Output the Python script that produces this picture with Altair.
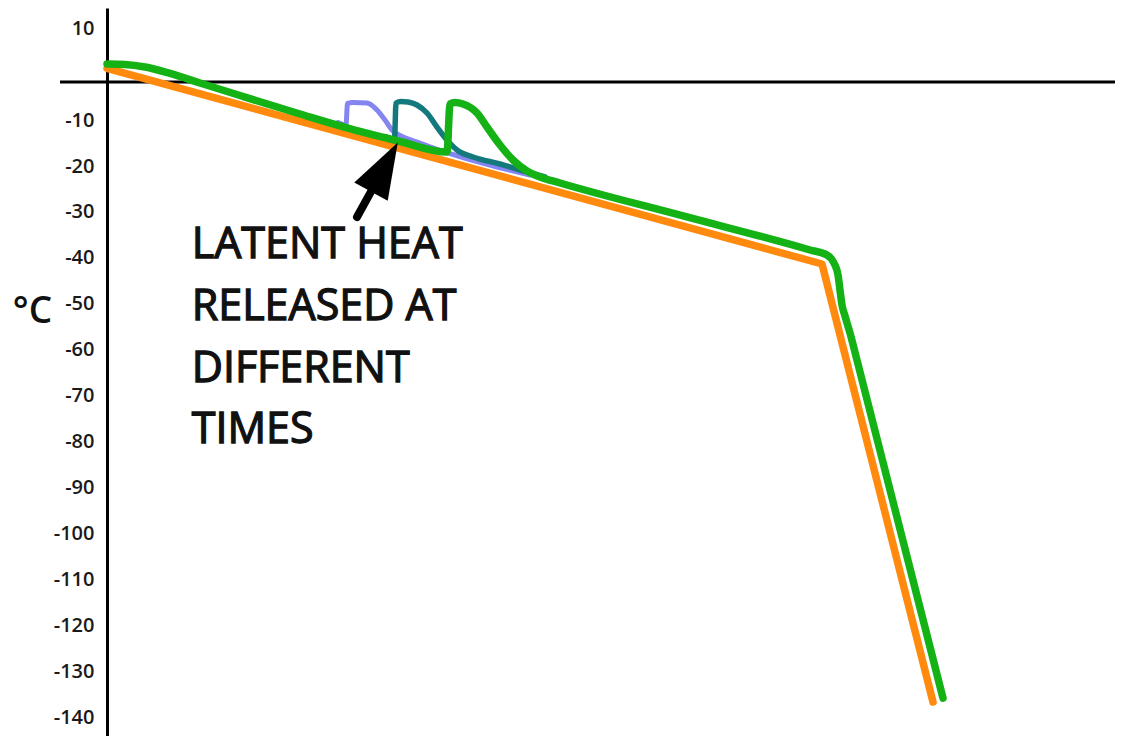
import altair as alt
import pandas as pd

# ---- data (time in arbitrary units, temperature in °C) ----
Y_TICKS = [10, -10, -20, -30, -40, -50, -60, -70, -80, -90, -100, -110, -120, -130, -140]

ORANGE_T = [0.0, 71.5, 82.6]
ORANGE_C = [1.28, -41.34, -136.72]

GREEN_T = [0.0, 1.8, 3.8, 6.3, 9.3, 13.3, 19.3, 25.3, 29.3, 34.0, 34.3, 34.8, 35.6, 37.0,
           38.0, 39.3, 40.6, 42.0, 43.3, 45.3, 57.8, 70.3, 72.0, 72.7, 73.1,
           73.3, 73.5, 73.8, 74.3, 75.0, 83.6]
GREEN_C = [2.21, 2.11, 1.56, 0.15, -1.92, -4.65, -8.67, -12.48, -14.66, -16.95, -6.50, -6.17,
           -6.50, -8.46, -11.51, -15.42, -18.69, -21.09, -22.40, -23.70, -30.99,
           -38.29, -39.40, -41.11, -43.73, -47.00, -50.27, -52.67, -56.37, -62.27,
           -135.87]

TEAL_T = [27.8, 28.75, 28.9, 29.4, 30.1, 31.0, 32.0, 33.0, 34.0, 35.0, 36.6, 39.3, 42.0, 43.8]
TEAL_C = [-13.60, -14.16, -6.28, -5.95, -6.06, -6.71, -8.46, -11.51, -14.34, -16.51, -18.04,
          -19.56, -21.30, -22.39]

PURPLE_T = [23.1, 23.9, 24.05, 24.6, 26.0, 27.0, 27.8, 28.5, 29.3, 31.3, 33.3, 35.6, 38.3, 42.3]
PURPLE_C = [-10.52, -11.07, -6.35, -6.17, -6.28, -7.80, -9.98, -12.16, -13.36, -15.00, -16.62,
            -18.15, -19.78, -21.96]

ZERO_LINE_T = [-4.7, 101.6]
ZERO_LINE_C = -1.72

ARROW_TAIL = (25.0, -31.10)
ARROW_BASE = (26.4, -25.59)
ARROW_ANGLE = 28.6

NOTE_LINES = ["LATENT HEAT", "RELEASED AT", "DIFFERENT", "TIMES"]
NOTE_T = 8.47
NOTE_C = [-40.10, -53.54, -66.97, -80.39]

# ---- layout ----
W, H = 1008, 728
PAD_L = 99
Y_TOP = 14.41
Y_BOT = -144.13
FONT = "Open Sans"

x_scale = alt.Scale(domain=[0, 100.8], nice=False, zero=False)
y_scale = alt.Scale(domain=[Y_BOT, Y_TOP], nice=False, zero=False)

y_axis = alt.Axis(
    values=Y_TICKS, title="°C", titleAngle=0, titleFont=FONT, titleFontSize=37,
    titleFontWeight=600, titleColor="#111111", titleX=-75, titleY=314,
    titleAlign="center", titleBaseline="alphabetic",
    labelFont=FONT, labelFontSize=20, labelFontWeight=600, labelColor="#1a1a1a",
    labelPadding=13, labelExpr="toString(datum.value)", labelOverlap=False,
    ticks=False, grid=False, domainColor="black", domainWidth=3,
)


def X(field="t"):
    return alt.X(f"{field}:Q", scale=x_scale, axis=None)


def Y(field="c"):
    return alt.Y(f"{field}:Q", scale=y_scale, axis=y_axis)


def series_df(ts, cs):
    return pd.DataFrame({"t": ts, "c": cs, "i": list(range(len(ts)))})


zero_df = pd.DataFrame({"t": [ZERO_LINE_T[0]], "t2": [ZERO_LINE_T[1]], "c": [ZERO_LINE_C]})
zero_line = alt.Chart(zero_df).mark_rule(color="black", strokeWidth=3, clip=False).encode(
    x=X(), x2="t2:Q", y=Y()
)


def line(ts, cs, color, width, interp):
    return alt.Chart(series_df(ts, cs)).mark_line(
        color=color, strokeWidth=width, interpolate=interp,
        strokeCap="round", strokeJoin="round", clip=False,
    ).encode(x=X(), y=Y(), order="i:Q")


orange = line(ORANGE_T, ORANGE_C, "#ff8a0d", 7.5, "linear")
purple = line(PURPLE_T, PURPLE_C, "#8585f2", 5, "monotone")
teal = line(TEAL_T, TEAL_C, "#13797c", 5.5, "monotone")
green = line(GREEN_T, GREEN_C, "#15b215", 7.5, "monotone")

shaft_df = pd.DataFrame({"t": [ARROW_TAIL[0]], "c": [ARROW_TAIL[1]],
                         "t2": [ARROW_BASE[0]], "c2": [ARROW_BASE[1]]})
shaft = alt.Chart(shaft_df).mark_rule(color="black", strokeWidth=8, strokeCap="round").encode(
    x=X(), y=Y(), x2="t2:Q", y2="c2:Q"
)

head_df = pd.DataFrame({"t": [ARROW_BASE[0]], "c": [ARROW_BASE[1]]})
head = alt.Chart(head_df).mark_point(
    shape="M0,-1L0.34,0L-0.34,0Z", filled=True, fill="black", opacity=1,
    size=12544, angle=ARROW_ANGLE, strokeWidth=0,
).encode(x=X(), y=Y())

note_df = pd.DataFrame({"t": [NOTE_T] * len(NOTE_LINES), "c": NOTE_C, "txt": NOTE_LINES})
note = alt.Chart(note_df).mark_text(
    align="left", baseline="alphabetic", font=FONT, fontSize=43, fontWeight="normal",
    color="#111111", stroke="#111111", strokeWidth=1.3,
).encode(x=X(), y=Y(), text="txt:N")

chart = alt.layer(zero_line, orange, purple, teal, green, shaft, head, note).properties(
    width=W, height=H,
    autosize=alt.AutoSizeParams(type="none"),
    padding={"left": PAD_L, "top": 0, "right": 0, "bottom": 0},
    background="white",
).configure_view(strokeWidth=0)

chart.save("out.html", embed_options={"renderer": "svg", "actions": False})
